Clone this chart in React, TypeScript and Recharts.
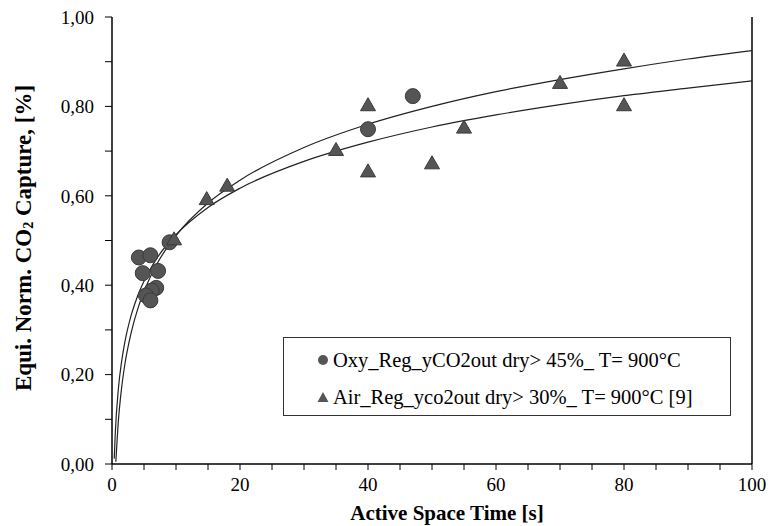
import {
  ComposedChart,
  Line,
  Scatter,
  XAxis,
  YAxis,
  Label,
  ReferenceLine,
} from "recharts";

const oxyTime = [4.2, 6.0, 4.8, 7.2, 9.0, 6.9, 6.2, 5.3, 6.0, 40, 47];
const oxyCapture = [0.462, 0.467, 0.427, 0.432, 0.496, 0.394, 0.388, 0.377, 0.366, 0.749, 0.823];

const airTime = [9.7, 14.8, 18, 35, 40, 40, 50, 55, 70, 80, 80];
const airCapture = [0.5, 0.59, 0.62, 0.7, 0.8, 0.652, 0.67, 0.75, 0.85, 0.9, 0.8];

// Trend curves
const oxyFitTime = [0.6, 1, 1.5, 2, 3, 4, 5, 7, 10, 15, 20, 30, 40, 50, 60, 70, 80, 90, 100];
const oxyFit = [0.005, 0.097, 0.17, 0.222, 0.294, 0.346, 0.386, 0.447, 0.511, 0.584, 0.635, 0.708, 0.76, 0.8, 0.833, 0.86, 0.884, 0.906, 0.925];

const airFitTime = [0.35, 0.5, 1, 1.5, 2, 3, 4, 5, 7, 10, 15, 20, 30, 40, 50, 60, 70, 80, 90, 100];
const airFit = [0.012, 0.065, 0.169, 0.229, 0.272, 0.333, 0.376, 0.409, 0.46, 0.513, 0.574, 0.617, 0.677, 0.72, 0.754, 0.781, 0.804, 0.824, 0.841, 0.857];

const xTicks = [0, 5, 10, 15, 20, 25, 30, 35, 40, 45, 50, 55, 60, 65, 70, 75, 80, 85, 90, 95, 100];
const yTicks = [0, 0.1, 0.2, 0.3, 0.4, 0.5, 0.6, 0.7, 0.8, 0.9, 1.0];

const oxyLabel = "Oxy_Reg_yCO2out dry> 45%_ T= 900°C";
const airLabel = "Air_Reg_yco2out dry> 30%_ T= 900°C [9]";

const oxyPoints = oxyTime.map((x, i) => ({ x, y: oxyCapture[i] }));
const airPoints = airTime.map((x, i) => ({ x, y: airCapture[i] }));
const oxyCurve = oxyFitTime.map((x, i) => ({ x, y: oxyFit[i] }));
const airCurve = airFitTime.map((x, i) => ({ x, y: airFit[i] }));

const FONT = "'Liberation Serif', 'Times New Roman', serif";
const MARK_FILL = "#555555";
const MARK_STROKE = "#3a3a3a";

function CircleMark(props: any) {
  const { cx, cy } = props;
  return <circle cx={cx} cy={cy} r={7.5} fill={MARK_FILL} stroke={MARK_STROKE} strokeWidth={1} />;
}

function TriangleMark(props: any) {
  const { cx, cy } = props;
  const h = 13;
  const w = 15;
  const d = `M${cx},${cy - (2 * h) / 3} L${cx + w / 2},${cy + h / 3} L${cx - w / 2},${cy + h / 3} Z`;
  return <path d={d} fill={MARK_FILL} stroke={MARK_STROKE} strokeWidth={1} />;
}

// Legend drawn as a boxed overlay inside the plot, like the original figure
function LegendBox() {
  return (
    <div
      style={{
        position: "absolute",
        left: 283,
        top: 337,
        border: "1.5px solid #333",
        width: 448,
        height: 79,
        fontFamily: FONT,
        fontSize: 20.5,
        color: "#000",
        boxSizing: "border-box",
        paddingLeft: 33,
        background: "#fff",
      }}
    >
      <div style={{ display: "flex", alignItems: "center", height: 40, paddingTop: 2, whiteSpace: "nowrap" }}>
        <svg width={14} height={14} style={{ marginRight: 2 }}>
          <circle cx={6} cy={7} r={5} fill={MARK_FILL} />
        </svg>
        {oxyLabel}
      </div>
      <div style={{ display: "flex", alignItems: "center", height: 34, whiteSpace: "nowrap" }}>
        <svg width={14} height={14} style={{ marginRight: 2 }}>
          <path d="M6,2 L11.5,12 L0.5,12 Z" fill={MARK_FILL} />
        </svg>
        {airLabel}
      </div>
    </div>
  );
}

function YTitle() {
  const cx = 23;
  const cy = 238;
  return (
    <text
      x={cx}
      y={cy}
      transform={`rotate(-90, ${cx}, ${cy})`}
      textAnchor="middle"
      dominantBaseline="central"
      fontFamily={FONT}
      fontWeight="bold"
      fontSize={23}
      fill="#000"
    >
      Equi. Norm. CO
      <tspan fontSize={14} dy={5}>2</tspan>
      <tspan dy={-5}> Capture, [%]</tspan>
    </text>
  );
}

function XTitle() {
  return (
    <text
      x={447}
      y={520}
      textAnchor="middle"
      fontFamily={FONT}
      fontWeight="bold"
      fontSize={21}
      fill="#000"
    >
      Active Space Time [s]
    </text>
  );
}

const fmtY = (v: number) => {
  const k = Math.round(v * 10);
  return k % 2 === 0 ? v.toFixed(2).replace(".", ",") : "";
};
const fmtX = (v: number) => (v % 20 === 0 ? String(v) : "");

export default function App() {
  return (
    <div style={{ position: "absolute", left: 0, top: 0, width: 770, height: 526, background: "#fff" }}>
      <ComposedChart width={770} height={526} margin={{ top: 17, right: 18, left: 0, bottom: 0 }}>
        <XAxis
          type="number"
          dataKey="x"
          domain={[0, 100]}
          ticks={xTicks}
          tickFormatter={fmtX}
          interval={0}
          height={62}
          tickSize={6}
          stroke="#000"
          axisLine={{ stroke: "#000", strokeWidth: 1.5 }}
          tickLine={{ stroke: "#000", strokeWidth: 1 }}
          tick={{ fill: "#000", fontFamily: FONT, fontSize: 19, dy: 6 }}
          allowDataOverflow
        >
          <Label content={<XTitle />} />
        </XAxis>
        <YAxis
          type="number"
          dataKey="y"
          domain={[0, 1]}
          ticks={yTicks}
          tickFormatter={fmtY}
          interval={0}
          width={112}
          tickSize={7}
          tickMargin={11}
          stroke="#000"
          axisLine={{ stroke: "#000", strokeWidth: 1.5 }}
          tickLine={{ stroke: "#000", strokeWidth: 1 }}
          tick={{ fill: "#000", fontFamily: FONT, fontSize: 19 }}
          allowDataOverflow
        >
          <Label content={<YTitle />} />
        </YAxis>
        <ReferenceLine x={100} stroke="#000" strokeWidth={1.5} ifOverflow="visible" />
        <Line
          data={oxyCurve}
          dataKey="y"
          type="monotone"
          stroke="#222"
          strokeWidth={1.2}
          dot={false}
          activeDot={false}
          isAnimationActive={false}
        />
        <Line
          data={airCurve}
          dataKey="y"
          type="monotone"
          stroke="#222"
          strokeWidth={1.2}
          dot={false}
          activeDot={false}
          isAnimationActive={false}
        />
        <Scatter data={oxyPoints} dataKey="y" shape={<CircleMark />} isAnimationActive={false} />
        <Scatter data={airPoints} dataKey="y" shape={<TriangleMark />} isAnimationActive={false} />
      </ComposedChart>
      <LegendBox />
    </div>
  );
}
